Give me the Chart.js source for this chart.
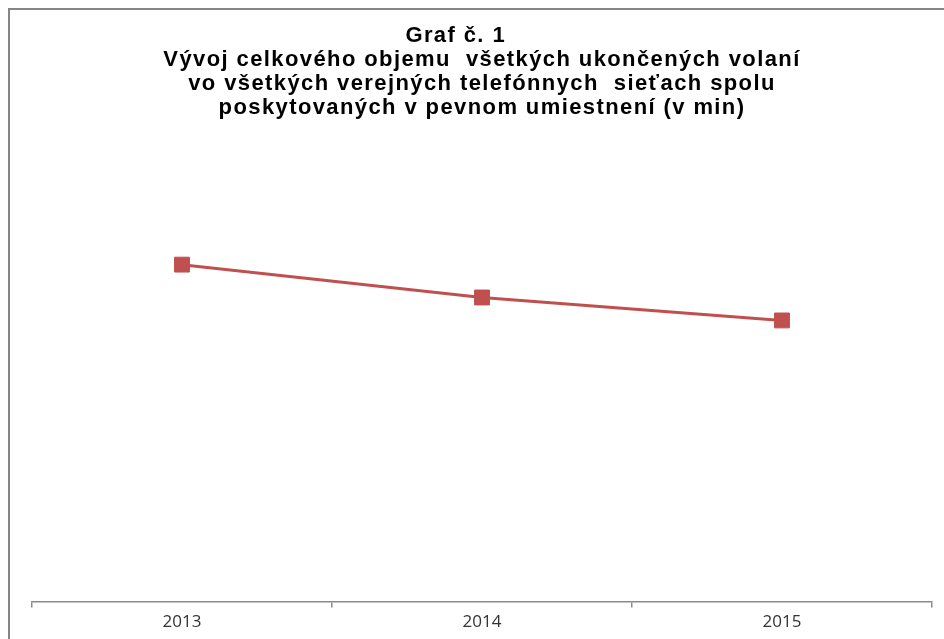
<!DOCTYPE html>
<html>
<head>
<meta charset="utf-8">
<script src="https://cdn.jsdelivr.net/npm/chart.js@4/dist/chart.umd.min.js"></script>
<style>
  html, body { margin: 0; padding: 0; background: #ffffff; }
  #wrap { width: 944px; height: 639px; position: relative; }
</style>
</head>
<body>
<div id="wrap"><canvas id="c" width="944" height="639"></canvas></div>
<script>
const categories = ['2013', '2014', '2015'];
const minutesValues = [1775, 1602, 1481];
const titleLines = [
  'Graf č. 1       ',
  'Vývoj celkového objemu  všetkých ukončených volaní',
  'vo všetkých verejných telefónnych  sieťach spolu',
  'poskytovaných v pevnom umiestnení (v min)'
];

const frameBorder = {
  id: 'frameBorder',
  beforeDraw(chart) {
    const ctx = chart.ctx;
    ctx.save();
    ctx.strokeStyle = '#858585';
    ctx.lineWidth = 2;
    ctx.beginPath();
    ctx.moveTo(9, 639);
    ctx.lineTo(9, 9);
    ctx.lineTo(944, 9);
    ctx.stroke();
    ctx.restore();
    // title is drawn with slightly wider spacing, like the reference
    if ('letterSpacing' in ctx) ctx.letterSpacing = '1.4px';
  },
  beforeDatasetsDraw(chart) {
    if ('letterSpacing' in chart.ctx) chart.ctx.letterSpacing = '0px';
  }
};

new Chart(document.getElementById('c'), {
  type: 'line',
  data: {
    labels: categories,
    datasets: [{
      data: minutesValues,
      borderColor: '#C0504D',
      backgroundColor: '#C0504D',
      borderWidth: 3,
      pointStyle: 'rect',
      pointRadius: 10.5,
      pointHoverRadius: 10.5,
      pointBorderWidth: 1,
      pointBorderColor: '#C0504D',
      pointBackgroundColor: '#C0504D',
      tension: 0
    }]
  },
  options: {
    responsive: false,
    animation: false,
    devicePixelRatio: 1,
    layout: { padding: { left: 32, right: 12, top: 0, bottom: 3 } },
    plugins: {
      legend: { display: false },
      tooltip: { enabled: false },
      title: {
        display: true,
        text: titleLines,
        color: '#000000',
        font: { family: 'Liberation Sans, Arial, sans-serif', size: 22, weight: 'bold', lineHeight: '24px' },
        padding: { top: 24, bottom: 7 }
      }
    },
    scales: {
      x: {
        offset: true,
        border: { display: true, color: '#8a8a8a', width: 1.5 },
        grid: { display: true, offset: true, drawOnChartArea: false, drawTicks: true, tickLength: 6, color: '#8a8a8a', lineWidth: 1.5 },
        ticks: { z: 1, color: '#333333', padding: 4, font: { family: 'Open Sans, sans-serif', size: 17 } }
      },
      y: {
        display: false,
        min: 0,
        max: 2500
      }
    }
  },
  plugins: [frameBorder]
});
</script>
</body>
</html>
